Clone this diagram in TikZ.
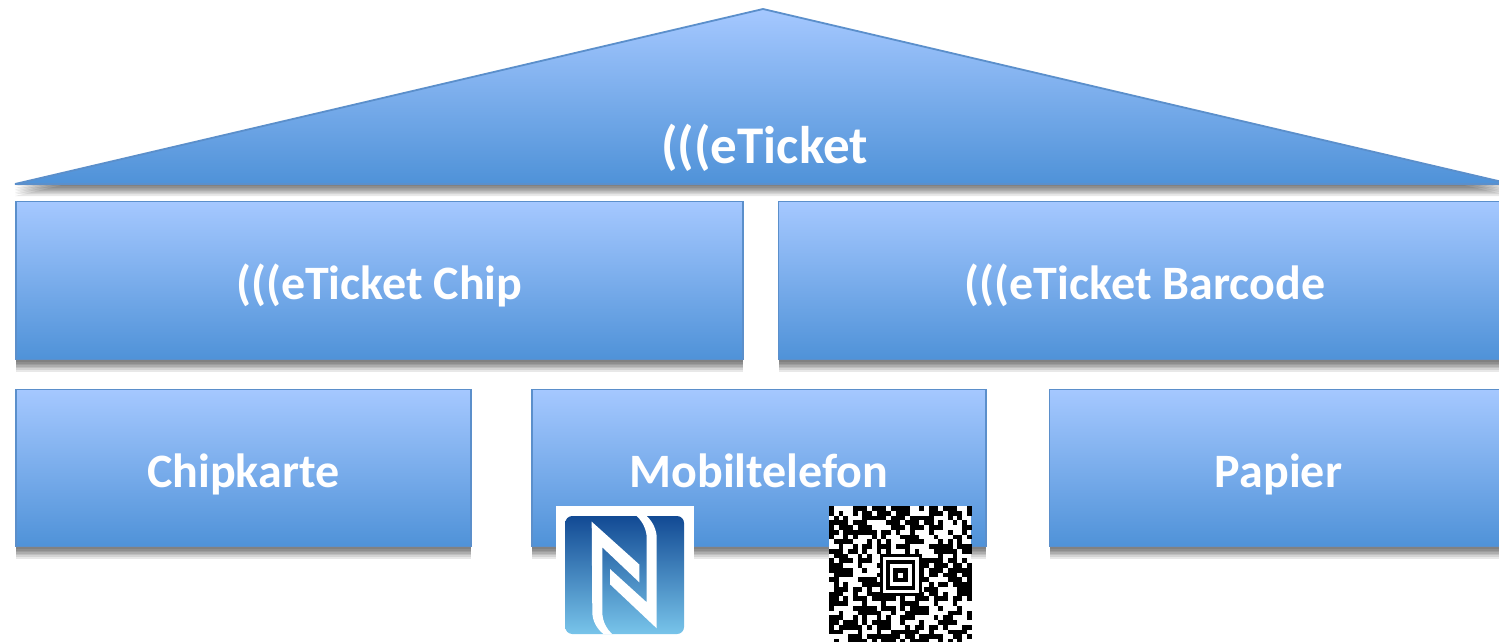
\documentclass[tikz,border=0pt]{standalone}
\usepackage{fontspec}
\setmainfont{Carlito}
\definecolor{gtop}{HTML}{A5C8FF}
\definecolor{gbot}{HTML}{4F92D8}
\definecolor{edge}{HTML}{5B8FCB}
\definecolor{nfctop}{HTML}{124A94}
\definecolor{nfcbot}{HTML}{78C4EA}
\tikzset{
  shadowlayer/.style={preaction={draw=none,fill=black,fill opacity=0.09,transform canvas={yshift=-#1}}},
  softshadow/.style={shadowlayer=2pt,shadowlayer=4pt,shadowlayer=5.5pt,shadowlayer=7pt,shadowlayer=8.5pt,shadowlayer=10pt,shadowlayer=12pt},
  blockstyle/.style={draw=edge,line width=1.8pt,top color=gtop,bottom color=gbot,softshadow},
  boxnode/.style={blockstyle,rectangle,inner sep=0pt,outer sep=0pt,anchor=north west,text=white,font=\bfseries\fontsize{48}{56}\selectfont,text height=42pt,text depth=4pt},
  labelnode/.style={text=white,font=\bfseries\fontsize{53}{60}\selectfont,inner sep=0pt,text height=42pt,text depth=4pt}
}
\newcount\qrh
\newcount\qrq
\newcommand{\qrmodules}{%
  \foreach \row in {0,...,28}{%
    \foreach \col in {0,...,29}{%
      \qrh=\numexpr \col*\col*37+\row*\row*53+\col*\row*29+\col*17+\row*41+7\relax
      \qrq=\qrh \divide\qrq by 101 \multiply\qrq by 101
      \advance\qrh by -\qrq
      \ifnum\qrh<56\relax
        \fill[black] ({829+4.75*\col},{506+4.75*\row}) rectangle +(4.8,4.8);%
      \fi
    }%
  }%
}
\begin{document}
\begin{tikzpicture}[x=1pt,y=-1pt]
\useasboundingbox (0,0) rectangle (1499,641);
\clip (0,0) rectangle (1499,641);
\fill[white] (0,0) rectangle (1499,641);
% roof
\draw[blockstyle,line join=bevel] (15,184) -- (763,9) -- (1511,184) -- cycle;
\node[labelnode] (roof) at (764.5,144.5) {(((eTicket};
% upper row
\node[boxnode,minimum width=727pt,minimum height=158pt] (chip) at (15.8,201.5) {(((eTicket Chip};
\node[boxnode,minimum width=733pt,minimum height=158pt] (barcode) at (778.5,201.5) {(((eTicket Barcode};
% lower row
\node[boxnode,minimum width=455pt,minimum height=157pt] (karte) at (15.8,389.5) {Chipkarte};
\node[boxnode,minimum width=454pt,minimum height=157pt] (mobil) at (532,389.5) {Mobiltelefon};
\node[boxnode,minimum width=458pt,minimum height=157pt] (papier) at (1049.5,389.5) {Papier};
% NFC logo
\fill[white] (556,506) rectangle (694,641);
\shade[top color=nfctop,bottom color=nfcbot,rounded corners=7pt] (565.3,516) rectangle (684,634);
\fill[white] (591.7,521.7) -- (639.3,564.5) -- (639.3,582.3) -- (602.3,547.3) -- (602.3,611.7)
  .. controls (602.3,622) and (607,629) .. (612,634) -- (603.5,634)
  .. controls (597,629) and (592.3,621) .. (592.3,611.7) -- cycle;
\fill[white] (646.7,516) .. controls (653,522) and (656.7,530) .. (656.7,538.3) -- (656.7,628.3)
  -- (610,584.3) -- (610,569) -- (646.7,602.3) -- (646.7,538.3)
  .. controls (646.7,530) and (643,522) .. (636.7,516) -- cycle;
% QR-like code
\fill[white] (829,506) rectangle (971,641);
\qrmodules
\fill[black] (879.7,554) rectangle (921.7,596);
\fill[white] (882.7,557) rectangle (918.7,593);
\fill[black] (886,560.3) rectangle (915.4,589.7);
\fill[white] (889.7,564) rectangle (911.7,586);
\fill[black] (893.4,567.7) rectangle (908,582.3);
\fill[white] (898.2,572.5) rectangle (903.2,577.5);
\end{tikzpicture}
\end{document}
